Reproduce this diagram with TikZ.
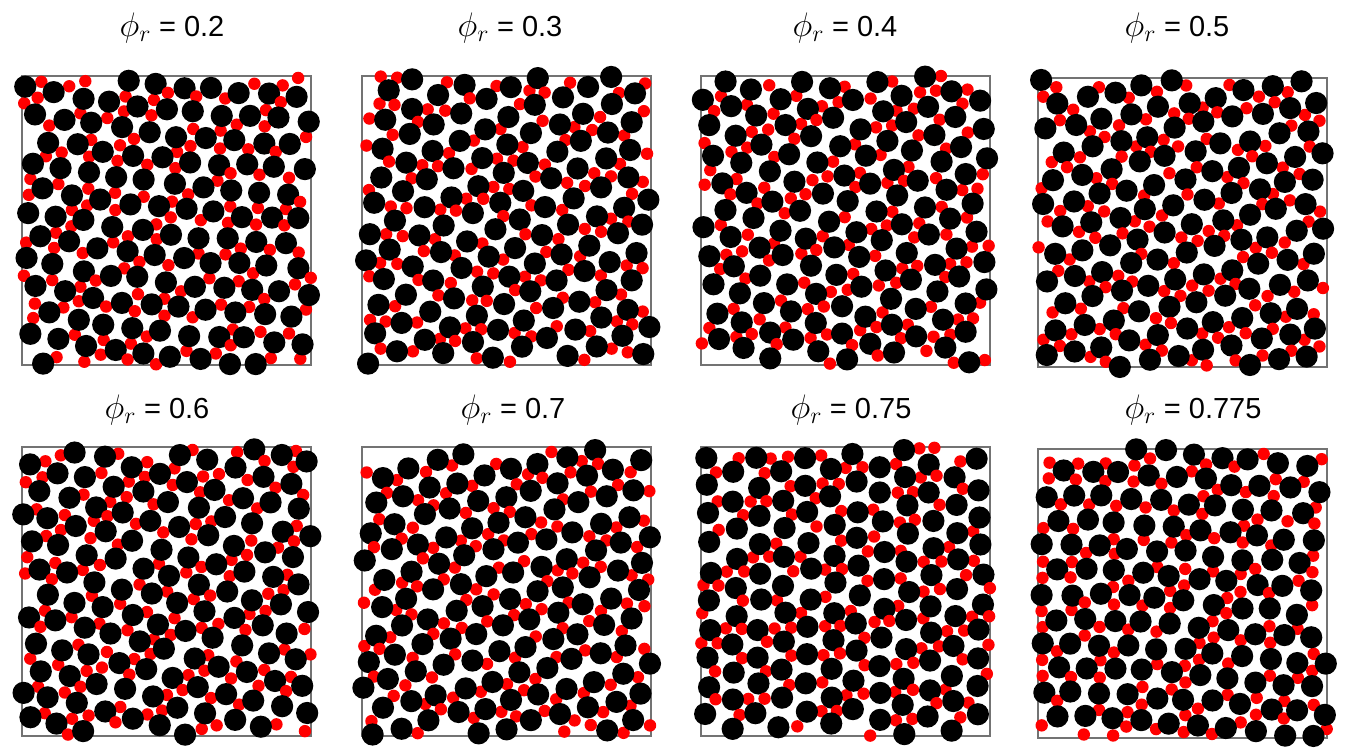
\RequirePackage{fix-cm}
\documentclass[tikz,border=0pt]{standalone}
\usepackage{fontspec}
\setsansfont{Liberation Sans}
\tikzset{
  blackdisc/.style={fill=black},
  reddisc/.style={fill=red},
  boxframe/.style={draw=black!55, line width=1.4},
  philabel/.style={font=\sffamily\fontsize{29}{34}\selectfont, inner sep=0pt}
}
\newcommand\phir{{\fontsize{34}{38}\selectfont$\phi_r$}}
\newcommand\particle[5]{%
  \pgfmathsetmacro\qx{#1+4*sin(0.9*(#2)+\pa)+#3*rand}%
  \pgfmathsetmacro\qy{#2+4*sin(0.8*(#1)+\pb)+#3*rand}%
  \pgfmathtruncatemacro\ok{(\qx>=0)&&(\qx<=289)&&(\qy>=0)&&(\qy<=289)}%
  \ifnum\ok=1 \fill[#5] (\qx,\qy) circle[radius=#4];\fi}
\newcommand\panel[6]{% x0,y0,seed,angle,ox,oy
\begin{scope}[shift={(#1,#2)}]
  \draw[boxframe] (0,0) rectangle (289,289);
  \pgfmathsetseed{#3}
  \pgfmathsetmacro\ax{28.4*cos(#4)}
  \pgfmathsetmacro\ay{28.4*sin(#4)}
  \pgfmathsetmacro\bx{28.4*cos(#4+60)}
  \pgfmathsetmacro\by{28.4*sin(#4+60)}
  \pgfmathsetmacro\cx{(\ax+\bx)/3}
  \pgfmathsetmacro\cy{(\ay+\by)/3}
  \pgfmathsetmacro\pa{360*rnd}
  \pgfmathsetmacro\pb{360*rnd}
  \foreach \i in {-10,...,10}{
    \foreach \j in {-10,...,10}{
      \pgfmathsetmacro\sx{144.5+#5+\i*\ax+\j*\bx}
      \pgfmathsetmacro\sy{144.5+#6+\i*\ay+\j*\by}
      \particle{\sx}{\sy}{2.0}{11.1}{blackdisc}
      \pgfmathsetmacro\ff{rnd<0.5 ? 1 : 2}
      \pgfmathsetmacro\tx{\sx+\ff*\cx}
      \pgfmathsetmacro\ty{\sy+\ff*\cy}
      \particle{\tx}{\ty}{1.0}{6.2}{reddisc}
    }}
\end{scope}}
\begin{document}
\begin{tikzpicture}[x=1pt,y=-1pt]
  \useasboundingbox[fill=white] (0,0) rectangle (1348,752);
  \node[philabel] (l1) at (172,28) {\phir{} = 0.2};
  \node[philabel] (l2) at (510,28) {\phir{} = 0.3};
  \node[philabel] (l3) at (845,28) {\phir{} = 0.4};
  \node[philabel] (l4) at (1177,28) {\phir{} = 0.5};
  \node[philabel] (l5) at (157,410) {\phir{} = 0.6};
  \node[philabel] (l6) at (513,410) {\phir{} = 0.7};
  \node[philabel] (l7) at (851,410) {\phir{} = 0.75};
  \node[philabel] (l8) at (1193,410) {\phir{} = 0.775};
  \panel{22}{76}{11}{7}{3}{9}
  \panel{362}{76}{23}{38}{11}{2}
  \panel{701}{76}{37}{22}{6}{14}
  \panel{1038}{78}{41}{51}{13}{5}
  \panel{22}{447}{53}{13}{8}{12}
  \panel{362}{447}{67}{44}{2}{7}
  \panel{701}{447}{79}{29}{10}{3}
  \panel{1038}{449}{97}{3}{4}{10}
\end{tikzpicture}
\end{document}
